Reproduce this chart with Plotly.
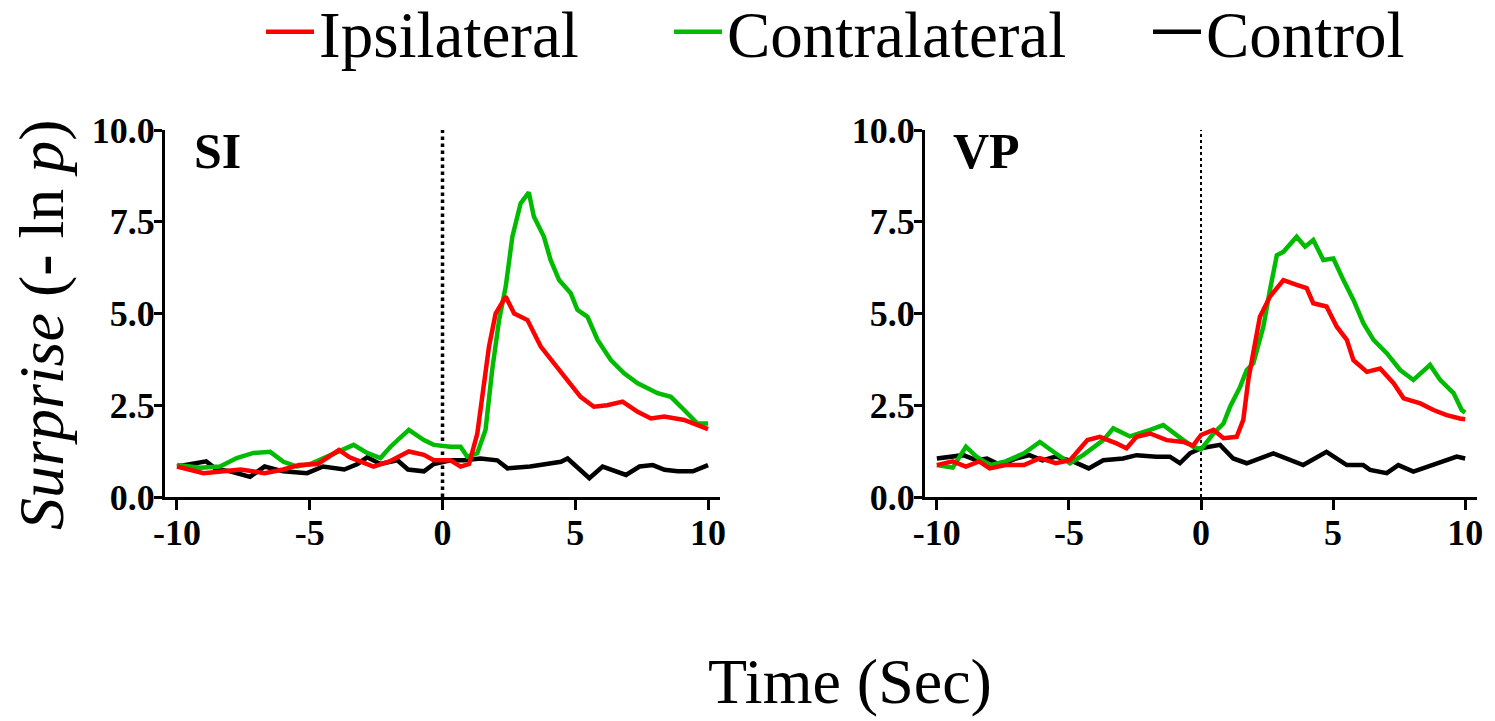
import plotly.graph_objects as go

# ---------------- data ----------------
SERIES = ["Ipsilateral", "Contralateral", "Control"]
COLORS = {"Ipsilateral": "#FF0000", "Contralateral": "#00BB00", "Control": "#000000"}
PANELS = ["SI", "VP"]

si_ipsi_t = [-10, -9.0, -8.25, -7.6, -6.7, -6.0, -5.4, -4.7, -3.9, -3.5, -2.6, -2.0, -1.27, -0.7, -0.33, 0.3, 0.68, 1.0,
             1.31, 1.56, 1.75, 2.0, 2.38, 2.7, 3.2, 3.7, 4.2, 4.7, 5.2, 5.7, 6.2, 6.78, 7.35, 7.85, 8.35, 9.1, 10]
si_ipsi_v = [0.83, 0.65, 0.7, 0.75, 0.65, 0.75, 0.87, 0.9, 1.28, 1.08, 0.83, 0.97, 1.24, 1.15, 1.0, 1.0, 0.83, 0.9,
             1.73, 3.0, 4.1, 5.0, 5.46, 5.0, 4.82, 4.1, 3.64, 3.19, 2.73, 2.46, 2.5, 2.6, 2.32, 2.14, 2.19, 2.1, 1.85]

si_contra_t = [-10, -9.13, -8.38, -7.75, -7.12, -6.49, -5.99, -5.48, -4.98, -4.23, -3.35, -2.84, -2.34, -1.96, -1.27, -0.7,
               -0.33, 0.3, 0.68, 0.93, 1.31, 1.62, 1.87, 2.13, 2.38, 2.63, 2.94, 3.25, 3.44, 3.82, 4.07, 4.39, 4.83,
               5.08, 5.46, 5.84, 6.34, 6.84, 7.35, 8.1, 8.6, 9.1, 9.6, 10]
si_contra_v = [0.87, 0.8, 0.83, 1.06, 1.2, 1.23, 0.96, 0.83, 0.9, 1.14, 1.42, 1.2, 1.06, 1.37, 1.83, 1.55,
               1.42, 1.37, 1.37, 1.1, 1.19, 1.83, 3.46, 4.82, 5.73, 7.09, 8.0, 8.3, 7.64, 7.09, 6.46, 5.91, 5.55,
               5.1, 4.91, 4.28, 3.73, 3.37, 3.1, 2.83, 2.73, 2.37, 2.0, 2.0]

si_ctrl_t = [-10, -8.9, -8.5, -8.0, -7.25, -6.7, -6.0, -5.1, -4.5, -3.7, -3.2, -2.84, -2.34, -1.7, -1.3, -0.7, -0.33, 0.3,
             0.8, 1.43, 2.06, 2.45, 3.3, 4.07, 4.46, 4.71, 5.09, 5.53, 6.03, 6.47, 6.91, 7.42, 7.92, 8.36, 8.86, 9.43, 10]
si_ctrl_v = [0.83, 0.97, 0.75, 0.7, 0.55, 0.83, 0.7, 0.65, 0.83, 0.75, 0.9, 1.08, 0.9, 1.0, 0.75, 0.7, 0.9, 1.0,
             1.0, 1.05, 1.0, 0.78, 0.83, 0.92, 0.96, 1.05, 0.78, 0.51, 0.83, 0.7, 0.6, 0.83, 0.87, 0.74, 0.7, 0.7, 0.87]

vp_ipsi_t = [-10, -9.4, -8.9, -8.4, -8.0, -7.4, -6.7, -6.1, -5.5, -4.96, -4.3, -3.83, -3.2, -2.82, -2.44, -1.93, -1.3,
             -0.67, -0.3, 0, 0.47, 0.85, 1.35, 1.6, 1.79, 1.98, 2.23, 2.61, 3.12, 3.62, 4.0, 4.25, 4.75, 5.14, 5.52,
             5.77, 6.28, 6.78, 7.29, 7.67, 8.3, 8.8, 9.3, 9.8, 10]
vp_ipsi_v = [0.87, 0.97, 0.83, 0.97, 0.78, 0.87, 0.87, 1.06, 0.92, 1.0, 1.55, 1.64, 1.46, 1.33, 1.64, 1.73, 1.55,
             1.5, 1.4, 1.69, 1.83, 1.6, 1.64, 2.1, 3.19, 4.0, 4.91, 5.46, 5.91, 5.78, 5.69, 5.28, 5.19, 4.64, 4.28,
             3.73, 3.41, 3.5, 3.1, 2.69, 2.55, 2.37, 2.23, 2.14, 2.12]

vp_contra_t = [-10, -9.4, -8.9, -8.5, -8.0, -7.4, -6.7, -6.1, -5.6, -4.96, -4.45, -3.7, -3.32, -2.69, -1.93, -1.43,
               -0.67, -0.3, 0, 0.47, 0.85, 1.1, 1.48, 1.73, 1.98, 2.36, 2.61, 2.87, 3.12, 3.62, 3.94, 4.25, 4.63,
               5.01, 5.39, 5.77, 6.15, 6.53, 7.03, 7.54, 8.04, 8.67, 9.05, 9.56, 9.87, 10]
vp_contra_v = [0.87, 0.8, 1.37, 1.1, 0.87, 0.97, 1.19, 1.5, 1.24, 0.92, 1.15, 1.55, 1.87, 1.65, 1.83, 1.96,
               1.55, 1.37, 1.3, 1.73, 2.0, 2.46, 3.0, 3.46, 3.64, 4.64, 5.64, 6.59, 6.68, 7.09, 6.82, 7.0, 6.46,
               6.5, 5.91, 5.37, 4.73, 4.28, 3.92, 3.46, 3.19, 3.6, 3.19, 2.83, 2.37, 2.3]

vp_ctrl_t = [-10, -9.5, -9.0, -8.5, -8.1, -7.6, -7.0, -6.5, -6.0, -5.5, -4.85, -4.25, -3.7, -2.95, -2.44, -1.68, -1.18,
             -0.8, -0.42, 0, 0.72, 1.22, 1.73, 2.74, 3.87, 4.75, 5.52, 6.14, 6.4, 7.03, 7.47, 8.04, 8.92, 9.68, 10]
vp_ctrl_v = [1.05, 1.1, 1.14, 1.0, 1.05, 0.87, 1.05, 1.14, 1.0, 1.1, 0.97, 0.78, 1.0, 1.05, 1.14, 1.1, 1.1,
             0.92, 1.19, 1.33, 1.42, 1.05, 0.92, 1.19, 0.87, 1.23, 0.87, 0.87, 0.74, 0.65, 0.87, 0.69, 0.92, 1.1, 1.05]

x_tickvals = [-10, -5, 0, 5, 10]
x_ticktext = ["-10", "-5", "0", "5", "10"]
y_tickvals = [0, 2.5, 5, 7.5, 10]
y_ticktext = ["0.0", "2.5", "5.0", "7.5", "10.0"]
ONSET = 0

panel_data = {
    "SI": {"Ipsilateral": (si_ipsi_t, si_ipsi_v), "Contralateral": (si_contra_t, si_contra_v),
           "Control": (si_ctrl_t, si_ctrl_v)},
    "VP": {"Ipsilateral": (vp_ipsi_t, vp_ipsi_v), "Contralateral": (vp_contra_t, vp_contra_v),
           "Control": (vp_ctrl_t, vp_ctrl_v)},
}

# ---------------- figure ----------------
W, H = 1495, 721
SERIF = "Liberation Serif"

fig = go.Figure()

legend_ids = {"Ipsilateral": "legend", "Contralateral": "legend2", "Control": "legend3"}
axis_ids = {"SI": ("x", "y"), "VP": ("x2", "y2")}
draw_order = ["Control", "Contralateral", "Ipsilateral"]
for pi, panel in enumerate(PANELS):
    xa, ya = axis_ids[panel]
    for s in draw_order:
        t, v = panel_data[panel][s]
        fig.add_trace(go.Scatter(
            x=t, y=v, mode="lines", name=s, xaxis=xa, yaxis=ya,
            line=dict(color=COLORS[s], width=4.5),
            showlegend=(pi == 0), legend=legend_ids[s],
        ))

x_domains = {"SI": [0.1104, 0.4816], "VP": [0.6187, 0.9880]}
y_domain = [1 - 497 / H, 1 - 130 / H]

tick_font = dict(family=SERIF, size=36, color="black", weight="bold")
common_x = dict(range=[-10.45, 10.45], tickmode="array", tickvals=x_tickvals, ticktext=x_ticktext,
                showline=True, linewidth=3, linecolor="black", ticks="outside", ticklen=10, tickwidth=3,
                tickcolor="black", showgrid=False, zeroline=False, automargin=False, tickfont=tick_font,
                ticklabelstandoff=-8)
common_y = dict(range=[0, 10], domain=y_domain, tickmode="array", tickvals=y_tickvals, ticktext=y_ticktext,
                showline=True, linewidth=3, linecolor="black", ticks="outside", ticklen=8, tickwidth=3,
                tickcolor="black", showgrid=False, zeroline=False, automargin=False, tickfont=tick_font,
                ticklabelstandoff=-8)

fig.update_layout(
    xaxis=dict(domain=x_domains["SI"], anchor="y", **common_x),
    yaxis=dict(anchor="x", **common_y),
    xaxis2=dict(domain=x_domains["VP"], anchor="y2", **common_x),
    yaxis2=dict(anchor="x2", **common_y),
)

# dotted onset lines
fig.add_shape(type="line", xref="x", yref="y", x0=ONSET, x1=ONSET, y0=0, y1=10,
              line=dict(color="black", width=3.5, dash="dot"), layer="below")
fig.add_shape(type="line", xref="x2", yref="y2", x0=ONSET, x1=ONSET, y0=0, y1=10,
              line=dict(color="black", width=2, dash="dot"), layer="below")

# panel labels
for panel, (xa, ya) in axis_ids.items():
    fig.add_annotation(text="<b>%s</b>" % panel, xref="%s domain" % xa, yref="%s domain" % ya,
                       x=0.048, y=1.025, xanchor="left", yanchor="top", showarrow=False,
                       font=dict(family=SERIF, size=50, color="black"))

# axis titles
fig.add_annotation(text="<i>Surprise</i> (<b>-</b> ln <i>p</i>)", xref="paper", yref="paper",
                   x=41 / W, y=1 - 325 / H, textangle=-90, showarrow=False,
                   xanchor="center", yanchor="middle",
                   font=dict(family=SERIF, size=64, color="black"))
fig.add_annotation(text="Time (Sec)", xref="paper", yref="paper",
                   x=850 / W, y=1 - 681 / H, showarrow=False, xanchor="center", yanchor="middle",
                   font=dict(family=SERIF, size=64, color="black"))

legend_style = dict(orientation="h", yref="container", xref="container", y=1 - 32 / H,
                    xanchor="left", yanchor="middle", itemwidth=48,
                    font=dict(family=SERIF, size=65, color="black"), bgcolor="rgba(0,0,0,0)")
fig.update_layout(
    width=W, height=H, autosize=False,
    margin=dict(l=0, r=0, t=0, b=0, autoexpand=False),
    plot_bgcolor="white", paper_bgcolor="white",
    showlegend=True,
    legend=dict(x=261 / W, **legend_style),
    legend2=dict(x=669 / W, **legend_style),
    legend3=dict(x=1148 / W, **legend_style),
)

fig.write_html("out.html")
